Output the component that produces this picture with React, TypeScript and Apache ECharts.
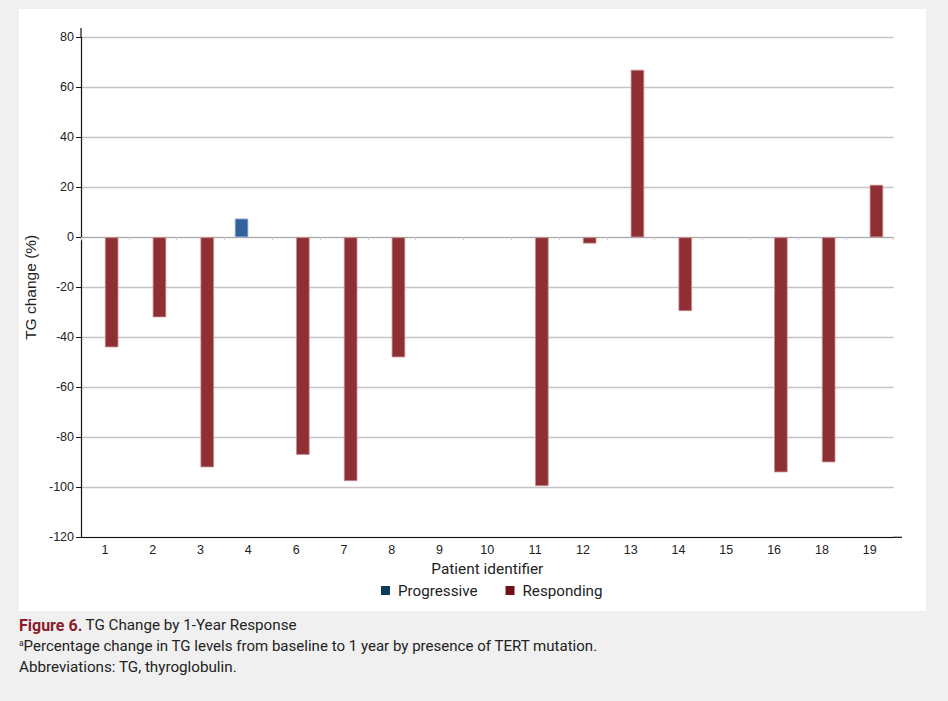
import React, { useEffect, useRef } from "react";
import * as echarts from "echarts";

const patients = ["1", "2", "3", "4", "6", "7", "8", "9", "10", "11", "12", "13", "14", "15", "16", "18", "19"];
const progressive = [null, null, null, 7.5, null, null, null, null, null, null, null, null, null, null, null, null, null];
const responding = [-44, -32, -92, null, -87, -97.5, -48, null, null, -99.5, -2.5, 67, -29.5, null, -94, -90, 21];
const yTicks = { min: -120, max: 80, interval: 20 };

export default function App() {
  const ref = useRef<HTMLDivElement>(null);
  useEffect(() => {
    if (!ref.current) return;
    const chart = echarts.init(ref.current, null, { renderer: "svg" });
    chart.setOption({
      animation: false,
      backgroundColor: "#f0f0f0",
      graphic: [
        { type: "rect", z: -10, shape: { x: 19, y: 9, width: 907, height: 602 }, style: { fill: "#ffffff" }, silent: true },
        { type: "line", shape: { x1: 81, y1: 28, x2: 81, y2: 37.3 }, style: { stroke: "#111", lineWidth: 1.2 } },
        { type: "line", shape: { x1: 893, y1: 537.3, x2: 902, y2: 537.3 }, style: { stroke: "#111", lineWidth: 1.2 } },
        {
          type: "text",
          x: 19,
          y: 625,
          style: {
            text: "{b|Figure 6.} {n|TG Change by 1-Year Response}",
            verticalAlign: "middle",
            rich: {
              b: { fontFamily: "Roboto", fontSize: 16, fontWeight: "bold", fill: "#8b1a2b" },
              n: { fontFamily: "Roboto", fontSize: 15.2, fill: "#222" },
            },
          },
        },
        {
          type: "text",
          x: 19,
          y: 646,
          style: {
            text: "{s|a}{n|Percentage change in TG levels from baseline to 1 year by presence of TERT mutation.}",
            verticalAlign: "middle",
            rich: {
              s: { fontFamily: "Roboto", fontSize: 8.5, fill: "#222", padding: [0, 0, 6, 0] },
              n: { fontFamily: "Roboto", fontSize: 15.05, fill: "#222" },
            },
          },
        },
        {
          type: "text",
          x: 19,
          y: 667,
          style: {
            text: "Abbreviations: TG, thyroglobulin.",
            verticalAlign: "middle",
            fontFamily: "Roboto",
            fontSize: 15.2,
            fill: "#222",
          },
        },
      ],
      legend: {
        top: 578,
        left: 376,
        itemWidth: 9,
        itemHeight: 9,
        itemGap: 28,
        icon: "rect",
        textStyle: { fontFamily: "Roboto", fontSize: 15.2, color: "#222", padding: [0, 0, 0, 3] },
        data: [
          { name: "Progressive", itemStyle: { color: "#0b3a5b", borderWidth: 0 } },
          { name: "Responding", itemStyle: { color: "#6f0f18", borderWidth: 0 } },
        ],
      },
      grid: { left: 81, top: 37.3, right: 54.4, bottom: 163.7, containLabel: false },
      xAxis: [
        {
          type: "category",
          data: patients,
          name: "Patient identifier",
          nameLocation: "middle",
          nameGap: 23,
          nameTextStyle: { fontFamily: "Roboto", fontSize: 15.4, color: "#222", verticalAlign: "top" },
          axisLine: { onZero: false, lineStyle: { color: "#111", width: 1.2 } },
          axisTick: { show: false },
          axisLabel: { fontFamily: "Liberation Sans", fontSize: 12.5, color: "#222", margin: 6 },
          splitLine: { show: false },
        },
        {
          type: "category",
          data: patients,
          position: "bottom",
          axisLine: { onZero: true, lineStyle: { color: "#aaaaaa", width: 1 } },
          axisTick: { show: true, length: 3, lineStyle: { color: "#cccccc" } },
          axisLabel: { show: false },
          splitLine: { show: false },
        },
      ],
      yAxis: {
        type: "value",
        min: yTicks.min,
        max: yTicks.max,
        interval: yTicks.interval,
        name: "TG change (%)",
        nameLocation: "middle",
        nameGap: 37,
        nameTextStyle: { fontFamily: "Liberation Sans", fontSize: 15.5, color: "#222" },
        axisLine: { show: true, lineStyle: { color: "#111", width: 1.2 } },
        axisTick: { show: true, length: 5, lineStyle: { color: "#111" } },
        axisLabel: { fontFamily: "Liberation Sans", fontSize: 12.5, color: "#222", margin: 7 },
        splitLine: { show: true, lineStyle: { color: "#c4c4c4", width: 1.3 } },
      },
      series: [
        {
          name: "Progressive",
          type: "bar",
          xAxisIndex: 0,
          data: progressive,
          barWidth: 13.5,
          barGap: "0%",
          itemStyle: { color: "#33619a", borderColor: "#9cb3cf", borderWidth: 0.8 },
        },
        {
          name: "Responding",
          type: "bar",
          xAxisIndex: 0,
          data: responding,
          barWidth: 13.5,
          barGap: "0%",
          itemStyle: { color: "#8e2f34", borderColor: "#c98a8d", borderWidth: 0.8 },
        },
      ],
    });
    return () => chart.dispose();
  }, []);
  return <div ref={ref} style={{ position: "fixed", left: 0, top: 0, width: 948, height: 701 }} />;
}
